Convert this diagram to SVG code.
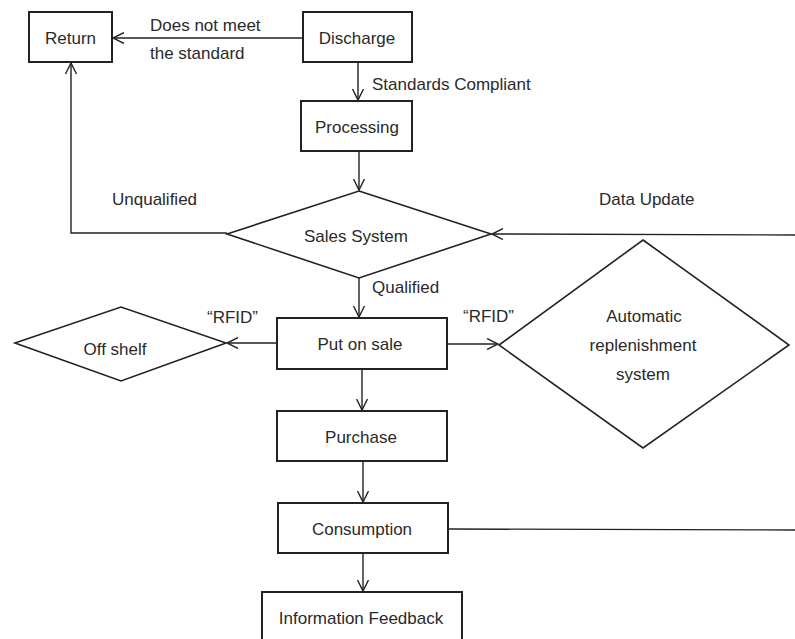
<svg xmlns="http://www.w3.org/2000/svg" width="795" height="639" viewBox="0 0 795 639">
  <style>
    .box { fill: #ffffff; stroke: #222222; stroke-width: 2; }
    .dia { fill: #ffffff; stroke: #222222; stroke-width: 1.6; }
    .t { font-family: "Liberation Sans", Arial, sans-serif; font-size: 17px; fill: #2a2a2a; dominant-baseline: central; }
    .c { text-anchor: middle; }
    .ln { fill: none; stroke: #222222; stroke-width: 1.4; }
    .ar { marker-end: url(#arrow); }
  </style>
  <defs>
    <marker id="arrow" viewBox="0 0 12 12" refX="11.5" refY="6" markerWidth="12" markerHeight="12" markerUnits="userSpaceOnUse" orient="auto">
      <path d="M0.5,0.5 L11.5,6 L0.5,11.5" fill="none" stroke="#222222" stroke-width="1.4"/>
    </marker>
  </defs>
  <rect width="795" height="639" fill="#ffffff"/>

  <g id="connectors">
    <line class="ln ar" x1="303" y1="38" x2="113" y2="38"/>
    <line class="ln ar" x1="358" y1="62" x2="358" y2="100"/>
    <line class="ln ar" x1="359" y1="151" x2="359" y2="190"/>
    <polyline class="ln ar" points="227,233 71,233 71,63"/>
    <line class="ln ar" x1="359" y1="278" x2="359" y2="317"/>
    <line class="ln ar" x1="277" y1="343" x2="227" y2="343"/>
    <line class="ln ar" x1="447" y1="344" x2="498" y2="344"/>
    <line class="ln ar" x1="362" y1="369" x2="362" y2="410"/>
    <line class="ln ar" x1="363" y1="461" x2="363" y2="502"/>
    <line class="ln ar" x1="363" y1="553" x2="363" y2="591"/>
    <line class="ln ar" x1="795" y1="235" x2="492" y2="234"/>
    <line class="ln" x1="448" y1="529" x2="795" y2="530"/>
  </g>

  <g id="labels">
    <text class="t" x="150" y="25">Does not meet</text>
    <text class="t" x="150" y="53">the standard</text>
    <text class="t" x="372" y="84">Standards Compliant</text>
    <text class="t" x="112" y="199">Unqualified</text>
    <text class="t" x="599" y="199">Data Update</text>
    <text class="t" x="372" y="287">Qualified</text>
    <text class="t" x="207" y="317">“RFID”</text>
    <text class="t" x="463" y="316">“RFID”</text>
  </g>

  <g id="return">
    <rect class="box" x="29" y="12" width="83" height="50"/>
    <text class="t c" x="70.5" y="38">Return</text>
  </g>
  <g id="discharge">
    <rect class="box" x="303" y="12" width="109" height="50"/>
    <text class="t c" x="357" y="38">Discharge</text>
  </g>
  <g id="processing">
    <rect class="box" x="301" y="101" width="111" height="50"/>
    <text class="t c" x="357" y="127">Processing</text>
  </g>
  <g id="sales-system">
    <polygon class="dia" points="359,191 491,234 359,278 227,234"/>
    <text class="t c" x="356" y="236">Sales System</text>
  </g>
  <g id="put-on-sale">
    <rect class="box" x="277" y="318" width="170" height="51"/>
    <text class="t c" x="360" y="344">Put on sale</text>
  </g>
  <g id="off-shelf">
    <polygon class="dia" points="15,343 121,307 226,343 121,381"/>
    <text class="t c" x="115" y="349">Off shelf</text>
  </g>
  <g id="automatic-replenishment">
    <polygon class="dia" points="643,240 789,345 643,448 499,345"/>
    <text class="t c" x="644" y="316">Automatic</text>
    <text class="t c" x="643" y="345">replenishment</text>
    <text class="t c" x="643" y="374">system</text>
  </g>
  <g id="purchase">
    <rect class="box" x="277" y="411" width="170" height="50"/>
    <text class="t c" x="361" y="437">Purchase</text>
  </g>
  <g id="consumption">
    <rect class="box" x="278" y="503" width="170" height="50"/>
    <text class="t c" x="362" y="529">Consumption</text>
  </g>
  <g id="information-feedback">
    <rect class="box" x="262" y="592" width="200" height="60"/>
    <text class="t c" x="361" y="618">Information Feedback</text>
  </g>
</svg>
